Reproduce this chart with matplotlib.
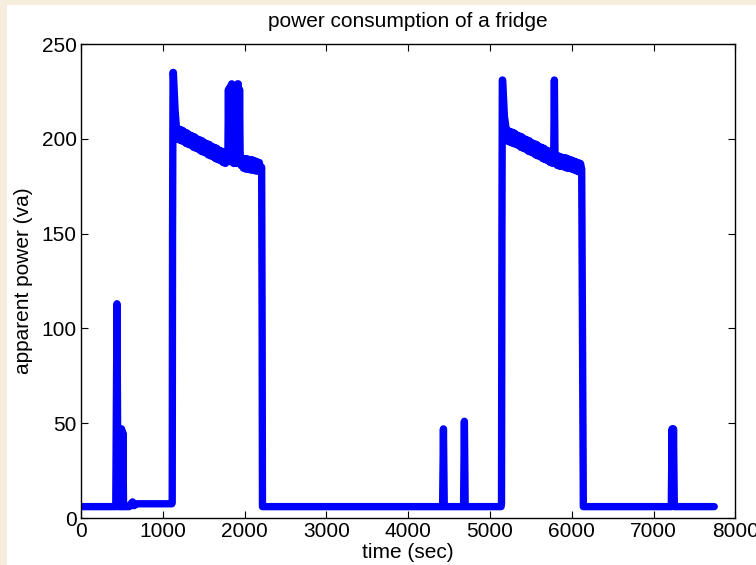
import numpy as np
import matplotlib
matplotlib.use("Agg")
from matplotlib import pyplot as plt
from matplotlib.patches import Rectangle

# readings, segment by segment (time in sec, power in va)
start_t = [0, 425, 440, 452, 470, 480, 488, 496, 504, 512, 520, 530, 590, 610, 630, 650, 670, 1000, 1110]
start_v = [6, 6, 113, 6, 6, 46, 6, 47, 6, 45, 6, 6, 6, 7.5, 8.5, 6.5, 7.5, 7.5, 7.5]

peak1_t = [1115, 1119, 1125, 1129, 1150, 1170]
peak1_v = [8, 150, 235, 235, 215, 204]

plateau1_t = [1180, 1195, 1210, 1225, 1240, 1255, 1270, 1285, 1300, 1315, 1330, 1345, 1360, 1375,
              1390, 1405, 1420, 1435, 1450, 1465, 1480, 1495, 1510, 1525, 1540, 1555, 1570, 1585,
              1600, 1615, 1630, 1645, 1660, 1675, 1690, 1705, 1720, 1735, 1750, 1765, 1780]
plateau1_v = [205.5, 199.5, 205, 199, 204.5, 198.5, 203.5, 197.5, 203, 197, 202, 196.5, 201.5, 195.5,
              201, 195, 200, 194.5, 199.5, 193.5, 199, 193, 198, 192.5, 197.5, 191.5, 197, 191,
              196, 190.5, 195.5, 189.5, 195, 189, 194, 188.5, 193.5, 187.5, 193, 187, 191]

burst1_t = [1795, 1802, 1810, 1818, 1826, 1834, 1842, 1850, 1858, 1866, 1874, 1882, 1890, 1898,
            1906, 1914, 1922, 1930, 1938, 1946, 1955]
burst1_v = [189, 226, 188, 227, 188, 228, 229, 188, 227, 187, 226, 188, 227, 187,
            228, 229, 229, 187, 226, 187, 186]

tail1_t = [1970, 1985, 2000, 2015, 2030, 2045, 2060, 2075, 2090, 2105, 2120, 2135, 2150, 2165,
           2180, 2195, 2208, 2214, 2218]
tail1_v = [190, 184.5, 189.5, 184, 189.5, 184, 189, 183.5, 189, 183.5, 188.5, 183, 188, 183,
           187.5, 182.5, 185, 100, 6]

middle_t = [2230, 4420, 4430, 4440, 4676, 4686, 4696, 5135]
middle_v = [6, 6, 47, 6, 6, 51, 6, 6]

peak2_t = [5140, 5145, 5150, 5154, 5175, 5200]
peak2_v = [8, 150, 231, 231, 212, 204]

plateau2_t = [5210, 5225, 5240, 5255, 5270, 5285, 5300, 5315, 5330, 5345, 5360, 5375, 5390,
              5405, 5420, 5435, 5450, 5465, 5480, 5495, 5510, 5525, 5540, 5555, 5570, 5585,
              5600, 5615, 5630, 5645, 5660, 5675, 5690, 5705, 5720, 5735, 5750, 5765, 5778,
              5786, 5794]
plateau2_v = [204.5, 198.5, 204, 198, 203.5, 197.5, 203, 197, 202, 196.5, 201.5, 195.5, 201,
              195, 200, 194.5, 199.5, 193.5, 199, 193, 198, 192.5, 197.5, 191.5, 197, 191,
              196, 190.5, 195.5, 189.5, 195, 189, 194, 188.5, 193.5, 187.5, 193, 187, 190,
              231, 189]

tail2_t = [5805, 5820, 5835, 5850, 5865, 5880, 5895, 5910, 5925, 5940, 5955, 5970, 5985, 6000,
           6015, 6030, 6045, 6060, 6075, 6090, 6105, 6120, 6130, 6140]
tail2_v = [191.5, 186, 191, 185.5, 190.5, 185.5, 190, 185, 190, 184.5, 189.5, 184.5, 189, 184,
           188.5, 183.5, 188, 183, 187.5, 182.5, 187, 184, 100, 6]

end_t = [6150, 7215, 7225, 7233, 7242, 7252, 7740]
end_v = [6, 6, 47, 8, 47, 6, 6]

time_s = np.concatenate([start_t, peak1_t, plateau1_t, burst1_t, tail1_t, middle_t,
                         peak2_t, plateau2_t, tail2_t, end_t])
power_va = np.concatenate([start_v, peak1_v, plateau1_v, burst1_v, tail1_v, middle_v,
                           peak2_v, plateau2_v, tail2_v, end_v])

x_ticks = [0, 1000, 2000, 3000, 4000, 5000, 6000, 7000, 8000]
y_ticks = [0, 50, 100, 150, 200, 250]

plt.rcParams['font.family'] = ['Liberation Sans', 'DejaVu Sans']

fig = plt.figure(figsize=(7.56, 5.65), dpi=100, facecolor='#f6eddc')
# white page inside the beige frame
fig.patches.append(Rectangle((7 / 756, 0), 1, 560 / 565, transform=fig.transFigure,
                             facecolor='white', edgecolor='none', zorder=-10))

ax = fig.add_axes([81 / 756, 47 / 565, 654.5 / 756, 474 / 565])
ax.plot(time_s, power_va, color='#0000ff', linewidth=5.3,
        solid_joinstyle='round', solid_capstyle='round')

ax.set_xlim(0, 8000)
ax.set_ylim(0, 250)
ax.set_xticks(x_ticks)
ax.set_yticks(y_ticks)
ax.tick_params(direction='in', length=5, width=0.8, top=True, right=True,
               labelsize=15, pad=3)
for side in ax.spines.values():
    side.set_linewidth(1.0)

ax.set_title('power consumption of a fridge', fontsize=15, pad=12)
ax.set_xlabel('time (sec)', fontsize=15, labelpad=1)
ax.set_ylabel('apparent power (va)', fontsize=15, labelpad=6)

fig.savefig('out.png', dpi=100, facecolor=fig.get_facecolor())
